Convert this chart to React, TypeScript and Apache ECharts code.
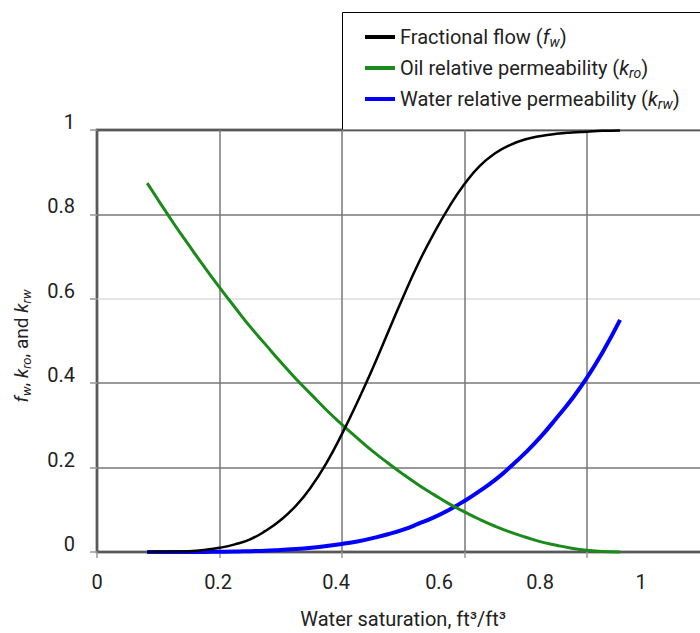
import React, { useEffect, useRef } from "react";
import * as echarts from "echarts";

const waterSaturation = [0.082, 0.1, 0.125, 0.15, 0.175, 0.2, 0.225, 0.25, 0.275, 0.3, 0.325, 0.35, 0.375, 0.4, 0.425, 0.45, 0.475, 0.5, 0.525, 0.55, 0.575, 0.6, 0.625, 0.65, 0.675, 0.7, 0.725, 0.75, 0.775, 0.8, 0.825, 0.854];
const fractionalFlow = [0, 0.0005, 0.001, 0.002, 0.005, 0.01, 0.018, 0.03, 0.05, 0.076, 0.11, 0.155, 0.212, 0.28, 0.355, 0.435, 0.52, 0.605, 0.685, 0.755, 0.818, 0.872, 0.915, 0.945, 0.965, 0.978, 0.986, 0.991, 0.994, 0.996, 0.998, 0.999];
const oilRelPerm = [0.874, 0.834, 0.779, 0.727, 0.676, 0.627, 0.58, 0.534, 0.492, 0.45, 0.41, 0.373, 0.336, 0.302, 0.27, 0.239, 0.211, 0.184, 0.159, 0.136, 0.114, 0.095, 0.077, 0.061, 0.047, 0.035, 0.024, 0.016, 0.009, 0.004, 0.001, 0];
const waterRelPerm = [0, 0, 0, 0, 0.0002, 0.0005, 0.001, 0.002, 0.003, 0.005, 0.007, 0.01, 0.014, 0.019, 0.025, 0.033, 0.042, 0.053, 0.067, 0.082, 0.1, 0.121, 0.145, 0.171, 0.202, 0.236, 0.274, 0.317, 0.362, 0.413, 0.472, 0.55];

const xTicks = [0, 0.2, 0.4, 0.6, 0.8, 1];
const yTicks = [0, 0.2, 0.4, 0.6, 0.8, 1];
const seriesNames = ["fw", "kro", "krw"];
const legendLabels: Record<string, string> = {
  fw: "{a|Fractional flow (}{i|f}{s|w}{a|)}",
  kro: "{a|Oil relative permeability (}{i|k}{s|ro}{a|)}",
  krw: "{a|Water relative permeability (}{i|k}{s|rw}{a|)}",
};
const colors = ["#000000", "#1a8a1a", "#0000ff"];

// layout: where the reference prints its x tick labels (they drift from the ticks)
const X_LABEL_LEFT = [97, 218, 336, 439, 540, 641];
const X_LABEL_Y = 582;

const FONT = "Roboto, 'DejaVu Sans Condensed', sans-serif";

const rich = (size: number) => ({
  a: { fontSize: size, fontFamily: FONT, color: "#222", lineHeight: size + 4 },
  i: { fontSize: size, fontFamily: FONT, fontStyle: "italic", color: "#222", lineHeight: size + 4 },
  s: {
    fontSize: Math.round(size * 0.68),
    fontFamily: FONT,
    fontStyle: "italic",
    color: "#222",
    verticalAlign: "bottom",
    padding: [8, 0, 0, 0],
    lineHeight: size + 4,
  },
});

export default function App() {
  const ref = useRef<HTMLDivElement>(null);
  useEffect(() => {
    if (!ref.current) return;
    const chart = echarts.init(ref.current, undefined, { renderer: "svg" });
    const pairs = (ys: number[]) => waterSaturation.map((x, i) => [x, ys[i]]);
    const data = [fractionalFlow, oilRelPerm, waterRelPerm];
    const widths = [2.5, 3, 4];
    chart.setOption({
      animation: false,
      backgroundColor: "#fff",
      graphic: [
        {
          type: "rect",
          z: 0,
          shape: { x: 342.5, y: 12.5, width: 420, height: 118 },
          style: { fill: "#fff", stroke: "#000", lineWidth: 1 },
        },
        ...xTicks.map((t, i) => ({
          type: "text",
          z: 5,
          x: X_LABEL_LEFT[i],
          y: X_LABEL_Y,
          style: {
            text: String(t),
            font: `20px ${FONT}`,
            fill: "#222",
            align: "center",
            verticalAlign: "middle",
          },
        })),
      ],
      legend: {
        orient: "vertical",
        left: 365,
        top: 27,
        padding: 0,
        z: 5,
        data: seriesNames.map((n) => ({ name: n, icon: "rect" })),
        itemWidth: 30,
        itemHeight: 4,
        itemGap: 9,
        itemStyle: { borderWidth: 0 },
        itemTextGap: 12,
        formatter: (name: string) => legendLabels[name],
        textStyle: { rich: rich(20) },
      },
      grid: {
        left: 97,
        top: 130,
        width: 612.5,
        height: 422,
        show: true,
        borderColor: "#000",
        borderWidth: 2.5,
        outerBoundsMode: "none",
        containLabel: false,
      },
      xAxis: {
        type: "value",
        min: xTicks[0],
        max: xTicks[xTicks.length - 1],
        interval: 0.2,
        name: "Water saturation, ft³/ft³",
        nameLocation: "middle",
        nameGap: 57,
        nameTextStyle: { fontSize: 20, fontFamily: FONT, color: "#222" },
        axisLine: { show: false },
        axisTick: { show: true, length: 6, lineStyle: { color: "#999", width: 1.5 } },
        axisLabel: { show: false },
        splitLine: { show: true, lineStyle: { color: "#777", width: 1.5 } },
      },
      yAxis: {
        type: "value",
        min: yTicks[0],
        max: yTicks[yTicks.length - 1],
        interval: 0.2,
        name: "{i|f}{s|w}{a|, }{i|k}{s|ro}{a|, and }{i|k}{s|rw}",
        nameLocation: "middle",
        nameGap: 64,
        nameTextStyle: { rich: rich(19), padding: [0, 10, 0, 0] },
        axisLine: { show: false },
        axisTick: { show: true, length: 7, lineStyle: { color: "#999", width: 1.5 } },
        axisLabel: {
          fontSize: 20,
          fontFamily: FONT,
          color: "#222",
          margin: 22,
          verticalAlign: "bottom",
          lineHeight: 16,
          formatter: (v: number) => String(Math.round(v * 10) / 10),
        },
        splitLine: {
          show: true,
          lineStyle: { color: ["#777", "#777", "#777", "#dcdcdc", "#777", "#777"], width: 1.5 },
        },
      },
      series: seriesNames.map((n, k) => ({
        name: n,
        type: "line",
        smooth: true,
        showSymbol: false,
        symbol: "none",
        clip: false,
        z: 3 + (2 - k),
        data: pairs(data[k]),
        color: colors[k],
        lineStyle: { color: colors[k], width: widths[k] },
      })),
    });
    return () => chart.dispose();
  }, []);
  return (
    <div
      ref={ref}
      style={{ position: "absolute", left: 0, top: 0, width: 700, height: 633 }}
    />
  );
}
